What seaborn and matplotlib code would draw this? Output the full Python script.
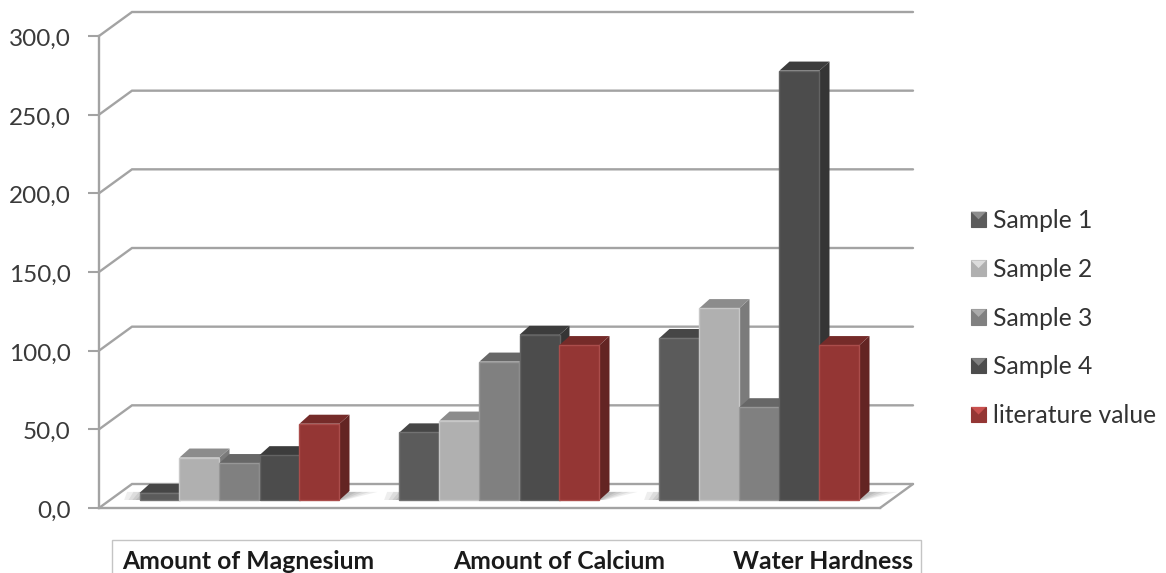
import numpy as np
import pandas as pd
import matplotlib
matplotlib.use("Agg")
import matplotlib.pyplot as plt
import seaborn as sns
from matplotlib.colors import to_rgb
from matplotlib.lines import Line2D
from matplotlib.patches import Polygon, Rectangle
from matplotlib.transforms import ScaledTranslation, IdentityTransform
from matplotlib.legend_handler import HandlerBase

# ---- data ----
categories = ["Amount of Magnesium", "Amount of Calcium", "Water Hardness"]
series_names = ["Sample 1", "Sample 2", "Sample 3", "Sample 4", "literature value"]
sample_1 = [4.5, 43.0, 103.0]
sample_2 = [27.0, 50.5, 122.0]
sample_3 = [23.5, 88.0, 59.0]
sample_4 = [28.5, 105.0, 273.0]
literature = [48.5, 98.5, 98.5]
y_ticks = [0, 50, 100, 150, 200, 250, 300]
y_tick_labels = ["0,0", "50,0", "100,0", "150,0", "200,0", "250,0", "300,0"]

# ---- styles ----
front_cols = ["#5b5b5b", "#b0b0b0", "#808080", "#4c4c4c", "#943634"]
side_cols = ["#3f3f3f", "#7b7b7b", "#5a5a5a", "#353535", "#632523"]
top_cols = ["#464646", "#8c8c8c", "#676767", "#3c3c3c", "#752b29"]
line_col = "#a3a3a3"
W, H = 1166, 573
DEPTH_X, DEPTH_Y = 33, 24      # depth of the chart's floor, px
BAR_DX, BAR_DY = 10, 9         # depth of a bar, px

sns.set_style("white")
plt.rcParams["font.family"] = ["Lato", "DejaVu Sans"]
fig = plt.figure(figsize=(W / 100, H / 100), dpi=100, facecolor="white")


def box(l, t, r, b):
    return [l / W, 1 - b / H, (r - l) / W, (b - t) / H]


# ---- the frame: front plane of the chart with the value axis ----
frame = fig.add_axes(box(99, 36, 880, 508))
frame.set_xlim(-0.5, 2.5)
frame.set_ylim(0, 300)
sns.despine(ax=frame)
for s in ("left", "bottom"):
    frame.spines[s].set_color(line_col)
    frame.spines[s].set_linewidth(1.7)
frame.set_yticks(y_ticks, y_tick_labels, fontsize=17.5, color="#3a3a3a")
frame.tick_params(axis="y", length=8, width=1.5, color=line_col, pad=12.5, left=True)
label_shift = ScaledTranslation(0, -1.5 / 100, fig.dpi_scale_trans)
for lab in frame.get_yticklabels():
    lab.set_transform(lab.get_transform() + label_shift)
# category labels sit in the box below, off-centre as in the original
frame.set_xticks([0.073, 1.269, 2.281], categories, fontsize=17.8,
                 fontweight="bold", color="#1a1a1a")
frame.tick_params(axis="x", length=0, pad=30.5)

back = ScaledTranslation(DEPTH_X / 100, DEPTH_Y / 100, fig.dpi_scale_trans)
ytrans = frame.get_yaxis_transform()
for v in y_ticks:
    # diagonal on the side wall + line on the back wall
    p0 = ytrans.transform((0, v))
    p1 = (ytrans + back).transform((0, v))
    p2 = (ytrans + back).transform((1, v))
    frame.add_line(Line2D([p0[0], p1[0], p2[0]], [p0[1], p1[1], p2[1]],
                          transform=IdentityTransform(), color=line_col, lw=1.7,
                          clip_on=False, solid_joinstyle="miter"))
p0 = ytrans.transform((1, 0))
p1 = (ytrans + back).transform((1, 0))
frame.add_line(Line2D([p0[0], p1[0]], [p0[1], p1[1]], transform=IdentityTransform(),
                      color=line_col, lw=1.7, clip_on=False))

# ---- the box around the category labels ----
fig.add_artist(Rectangle((112 / W, -0.01), (921 - 112) / W, 1 - 540 / H + 0.01,
                         transform=fig.transFigure, fc="none", ec="#c4c4c4", lw=1.0))

# ---- the bars ----
ax = fig.add_axes(box(109.5, 500 - 300 * 1.573, 889.5, 500))
ax.patch.set_alpha(0)
df = pd.DataFrame({
    "category": np.tile(categories, len(series_names)),
    "series": np.repeat(series_names, len(categories)),
    "value": np.concatenate([sample_1, sample_2, sample_3, sample_4, literature]),
})
sns.barplot(data=df, x="category", y="value", hue="series", order=categories,
            hue_order=series_names, palette=front_cols, saturation=1,
            width=200 / 260, gap=0, ax=ax, legend=False)
ax.set_xlim(-0.5, 2.5)
ax.set_ylim(0, 300)
ax.axis("off")

dx = BAR_DX / 260
dy = BAR_DY / 1.573

# soft shadow on the floor around each group
for k in range(len(categories)):
    first = ax.containers[0][k]
    last = ax.containers[-1][k]
    x0, x1 = first.get_x(), last.get_x() + last.get_width()
    for grow, alpha in ((28, .16), (20, .2), (13, .25), (7, .3)):
        g = grow / 260
        ax.add_patch(Polygon([(x0 - g * .55, 0), (x1 + g * .2, 0), (x1 + dx + g, dy * .9),
                              (x0 + dx - g * .8, dy * .9)], closed=True, fc="#9a9a9a",
                             ec="none", alpha=alpha, zorder=0.5, clip_on=False))

for s, cont in enumerate(ax.containers):
    for bar in cont:
        x0, w, h = bar.get_x(), bar.get_width(), bar.get_height()
        order = 3 + x0 + s * 1e-3
        ax.add_patch(Polygon([(x0 + w, 0), (x0 + w + dx, dy), (x0 + w + dx, h + dy), (x0 + w, h)],
                             closed=True, fc=side_cols[s], ec="none", zorder=order, clip_on=False))
        ax.add_patch(Polygon([(x0, h), (x0 + dx, h + dy), (x0 + w + dx, h + dy), (x0 + w, h)],
                             closed=True, fc=top_cols[s], ec="none", zorder=order, clip_on=False))
        bar.set_zorder(order + 1e-4)
        bar.set_clip_on(False)
        r, g, b = to_rgb(front_cols[s])
        bar.set_edgecolor((min(r + .09, 1), min(g + .09, 1), min(b + .09, 1)))
        bar.set_linewidth(1.0)


# ---- legend with the bevelled swatches ----
class Swatch:
    def __init__(self, fc, tc):
        self.fc, self.tc = fc, tc


class SwatchHandler(HandlerBase):
    def create_artists(self, legend, orig, xd, yd, width, height, fontsize, trans):
        side = 11
        x0 = -xd
        y0 = -yd + (height - side) / 2
        return [Rectangle((x0, y0), side, side, fc=orig.fc, ec=orig.fc, lw=.8, transform=trans),
                Polygon([(x0, y0 + side), (x0 + side, y0 + side), (x0 + side / 2, y0 + side / 2)],
                        closed=True, fc=orig.tc, ec="none", transform=trans)]


handles = [Swatch(f, t) for f, t in zip(front_cols, ["#8d8d8d", "#dcdcdc", "#ababab", "#808080", "#c9504e"])]
fig.legend(handles, series_names, handler_map={Swatch: SwatchHandler()},
           loc="upper left", bbox_to_anchor=(966 / W, 1 - 204 / H), frameon=False,
           fontsize=17.7, labelcolor="#333333", labelspacing=1.05,
           handlelength=0.7, handletextpad=0.2, borderpad=0.2, borderaxespad=0)

fig.savefig("out.png", dpi=100, facecolor="white")
